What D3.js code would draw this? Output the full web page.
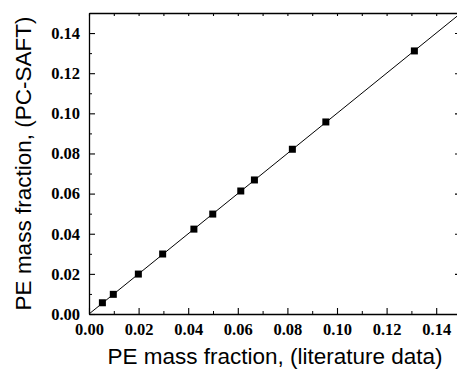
<!DOCTYPE html>
<html>
<head>
<meta charset="utf-8">
<script src="https://cdn.jsdelivr.net/npm/d3@7"></script>
<style>
  body { margin: 0; background: #fff; }
  svg { display: block; }
  .tick text { font-family: "Liberation Serif", "Times New Roman", serif; font-weight: bold; font-size: 16.5px; fill: #000; }
  .axis-title { font-family: "Liberation Sans", Arial, sans-serif; font-size: 22.5px; fill: #000; }
</style>
</head>
<body>
<div id="chart"></div>
<script>
// PE mass fraction: literature data (x) vs PC-SAFT (y)
const literature = [0.0054, 0.0098, 0.0199, 0.0297, 0.0423, 0.0499, 0.0612, 0.0667, 0.0820, 0.0955, 0.1312];
const pcsaft     = [0.0056, 0.0098, 0.0199, 0.0299, 0.0423, 0.0498, 0.0613, 0.0668, 0.0821, 0.0957, 0.1311];
const majorTicks = [0.00, 0.02, 0.04, 0.06, 0.08, 0.10, 0.12, 0.14];
const minorTicks = [0.01, 0.03, 0.05, 0.07, 0.09, 0.11, 0.13];
const parityLine = [0, 0.15];

const W = 457, H = 369;
const margin = { left: 89, top: 13 };
const width = 372, height = 301;

const svg = d3.select('#chart').append('svg')
  .attr('width', W).attr('height', H);

const x = d3.scaleLinear().domain([0, 0.15]).range([0, width]);
const y = d3.scaleLinear().domain([0, 0.15]).range([height, 0]);

const g = svg.append('g').attr('transform', `translate(${margin.left},${margin.top})`);

g.append('defs').append('clipPath').attr('id', 'clip')
  .append('rect').attr('width', width).attr('height', height);

// parity line y = x
g.append('line')
  .attr('clip-path', 'url(#clip)')
  .attr('x1', x(parityLine[0])).attr('y1', y(parityLine[0]))
  .attr('x2', x(parityLine[1])).attr('y2', y(parityLine[1]))
  .attr('stroke', '#000').attr('stroke-width', 1);

// points
g.append('g').selectAll('rect')
  .data(literature.map((v, i) => [v, pcsaft[i]]))
  .enter().append('rect')
    .attr('x', d => x(d[0]) - 3.5)
    .attr('y', d => y(d[1]) - 3.5)
    .attr('width', 7).attr('height', 7)
    .attr('fill', '#000');

const fmt = d3.format('.2f');
const styleAxis = sel => sel.call(s => s.select('.domain').attr('stroke-width', 1.3))
  .call(s => s.selectAll('.tick line').attr('stroke-width', 1.1));

// bottom axis
g.append('g').attr('transform', `translate(0,${height})`)
  .call(d3.axisBottom(x).tickValues(majorTicks).tickFormat(fmt).tickSizeInner(-6).tickSizeOuter(0).tickPadding(9))
  .call(styleAxis);
g.append('g').attr('transform', `translate(0,${height})`)
  .call(d3.axisBottom(x).tickValues(minorTicks).tickFormat('').tickSizeInner(-3).tickSizeOuter(0))
  .call(s => s.select('.domain').remove());

// left axis
g.append('g')
  .call(d3.axisLeft(y).tickValues(majorTicks).tickFormat(fmt).tickSizeInner(-6).tickSizeOuter(0).tickPadding(9))
  .call(styleAxis);
g.append('g')
  .call(d3.axisLeft(y).tickValues(minorTicks).tickFormat('').tickSizeInner(-3).tickSizeOuter(0))
  .call(s => s.select('.domain').remove());

// top axis (mirror)
g.append('g')
  .call(d3.axisTop(x).tickValues(majorTicks.concat(minorTicks)).tickFormat('').tickSizeInner(-3).tickSizeOuter(0))
  .call(styleAxis);

// right axis (mirror, mostly off-canvas)
g.append('g').attr('transform', `translate(${width},0)`)
  .call(d3.axisRight(y).tickValues(majorTicks).tickFormat('').tickSizeInner(-6).tickSizeOuter(0))
  .call(styleAxis);

// axis titles
svg.append('text').attr('class', 'axis-title')
  .attr('x', margin.left + width / 2).attr('y', 364)
  .attr('text-anchor', 'middle')
  .text('PE mass fraction, (literature data)');

svg.append('text').attr('class', 'axis-title')
  .attr('transform', `translate(31,${margin.top + height / 2}) rotate(-90)`)
  .attr('text-anchor', 'middle')
  .text('PE mass fraction, (PC-SAFT)');
</script>
</body>
</html>
